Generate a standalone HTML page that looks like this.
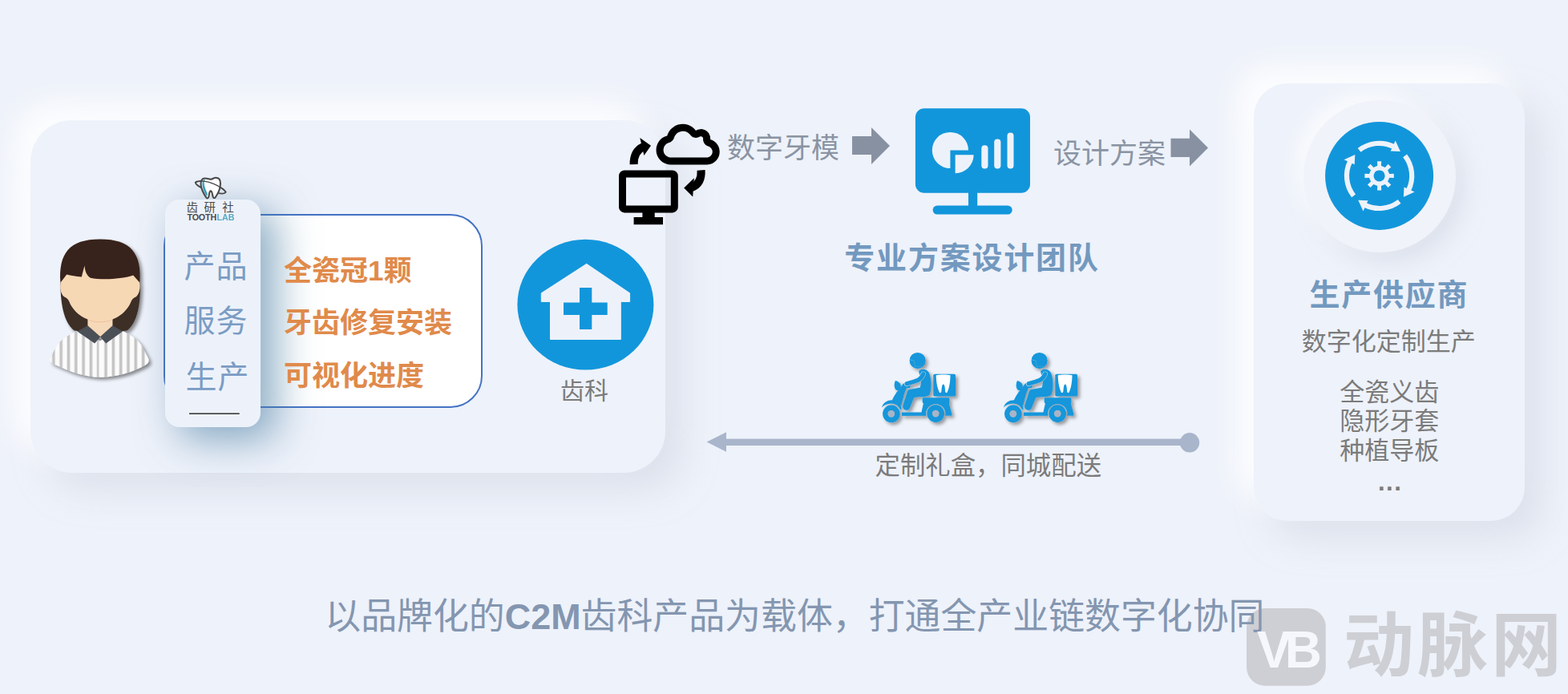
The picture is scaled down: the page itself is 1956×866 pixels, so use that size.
<!DOCTYPE html>
<html lang="zh-CN">
<head>
<meta charset="utf-8">
<title>C2M 齿科产品 全产业链数字化协同</title>
<style>
html,body{margin:0;padding:0}
body{width:1956px;height:866px;background:#eef2fa;position:relative;overflow:hidden;font-family:"Liberation Sans","Noto Sans CJK SC",sans-serif}
.abs{position:absolute}
.t{position:absolute;white-space:nowrap;line-height:1;overflow:visible;height:1.1em;font-family:"Liberation Sans","Noto Sans CJK SC",sans-serif}

.card{position:absolute;background:#eef2fa}
#lcard{left:38px;top:150px;width:792px;height:440px;border-radius:52px;box-shadow:-22px -22px 36px rgba(255,255,255,.85),22px 22px 40px rgba(208,213,226,.58)}
#rcard{left:1564px;top:104px;width:338px;height:546px;border-radius:42px;box-shadow:-22px -22px 36px rgba(255,255,255,.85),22px 22px 40px rgba(208,213,226,.58)}
#disc{left:1625.5px;top:124.5px;width:190px;height:190px;border-radius:50%;background:#f0f3fa;box-shadow:-10px -10px 24px rgba(255,255,255,.7),12px 12px 26px rgba(208,213,226,.6)}
#wbox{left:203.5px;top:266.5px;width:394px;height:238px;border-radius:40px;border:2px solid #4472c4;background:#fff}
#pill{left:206px;top:249px;width:119px;height:284px;border-radius:18px;background:#edf2fa;box-shadow:18px 14px 50px 2px rgba(72,124,162,.62)}

</style>
</head>
<body>

<div class="card" id="lcard"></div>
<div class="card" id="rcard"></div>
<div class="card" id="disc"></div>
<div class="card" id="wbox"></div>
<svg class="abs" style="left:0;top:0" width="1956" height="866" viewBox="0 0 1956 866"></svg>
<div class="card" id="pill"></div>

<svg class="abs" style="left:0;top:0" width="1956" height="866" viewBox="0 0 1956 866">
<rect x="236" y="515.5" width="62.7" height="1.3" fill="#111"/>
<polygon fill="#8791a2"  points="1063.0,170.0 1087.0,170.0 1087.0,159.0 1110.0,182.0 1087.0,205.0 1087.0,193.0 1063.0,193.0"/>
<polygon fill="#8791a2"  points="1460.5,172.8 1484.0,172.8 1484.0,161.5 1507.0,184.5 1484.0,207.5 1484.0,196.0 1460.5,196.0"/>
<rect x="900" y="547.6" width="584" height="8.4" fill="#a9b5cb"/>
<polygon fill="#a9b5cb"  points="881.6,551.5 906.0,539.3 906.0,563.7"/>
<circle cx="1484" cy="552.3" r="12.2" fill="#a9b5cb"/>
<ellipse cx="730.4" cy="380.2" rx="85" ry="81.4" fill="#1296db"/>
<polygon fill="#edf2fa" stroke="#edf2fa" stroke-width="1" stroke-linejoin="round" points="731.7,329.3 785.6,365.8 785.6,376.4 774.3,376.4 774.3,423.5 686.5,423.5 686.5,376.4 675.3,376.4 675.3,365.8"/>
<rect x="723" y="359" width="15.3" height="52" fill="#1296db"/>
<rect x="703" y="377.5" width="54.7" height="15.5" fill="#1296db"/>
<rect x="1141.9" y="135.3" width="143.1" height="105.4" rx="11" fill="#1296db"/>
<rect x="1208" y="238" width="11.2" height="22" fill="#1296db"/>
<rect x="1163.6" y="256.6" width="99.1" height="11" rx="5.5" fill="#1296db"/>
<path fill="#edf2fa" d="M1185.4 187.5 L1185.4 210.1 A22.6 22.6 0 1 1 1208.0 187.5 Z"/>
<path fill="#edf2fa" d="M1191.6 193.3 L1214.6 193.3 A23.0 23.0 0 0 1 1191.6 216.3 Z"/>
<rect x="1224.3" y="181.3" width="8.2" height="29.3" rx="4" fill="#edf2fa"/>
<rect x="1240.2" y="173.6" width="8.2" height="37.0" rx="4" fill="#edf2fa"/>
<rect x="1256.5" y="165.4" width="8.0" height="45.2" rx="4" fill="#edf2fa"/>
<circle cx="1720.6" cy="219.4" r="67.5" fill="#1296db"/>
<path fill="none" stroke="#edf2fa" stroke-width="6.2" d="M1695.6 187.4 A40.6 40.6 0 0 1 1738.4 182.9"/>
<polygon fill="#edf2fa"  points="1740.7,175.4 1746.9,189.1 1734.7,188.5"/>
<path fill="none" stroke="#edf2fa" stroke-width="6.2" d="M1752.6 194.4 A40.6 40.6 0 0 1 1757.1 237.2"/>
<polygon fill="#edf2fa"  points="1764.6,239.5 1750.9,245.7 1751.5,233.5"/>
<path fill="none" stroke="#edf2fa" stroke-width="6.2" d="M1745.6 251.4 A40.6 40.6 0 0 1 1702.8 255.9"/>
<polygon fill="#edf2fa"  points="1700.5,263.4 1694.3,249.7 1706.5,250.3"/>
<path fill="none" stroke="#edf2fa" stroke-width="6.2" d="M1688.6 244.4 A40.6 40.6 0 0 1 1684.1 201.6"/>
<polygon fill="#edf2fa"  points="1676.6,199.3 1690.3,193.1 1689.7,205.3"/>
<path fill="#edf2fa" fill-rule="evenodd" d="M1718.3 206.8 L1718.0 201.2 L1723.2 201.2 L1722.9 206.8 L1727.8 208.9 L1731.6 204.7 L1735.3 208.4 L1731.1 212.2 L1733.2 217.1 L1738.8 216.8 L1738.8 222.0 L1733.2 221.7 L1731.1 226.6 L1735.3 230.4 L1731.6 234.1 L1727.8 229.9 L1722.9 232.0 L1723.2 237.6 L1718.0 237.6 L1718.3 232.0 L1713.4 229.9 L1709.6 234.1 L1705.9 230.4 L1710.1 226.6 L1708.0 221.7 L1702.4 222.0 L1702.4 216.8 L1708.0 217.1 L1710.1 212.2 L1705.9 208.4 L1709.6 204.7 L1713.4 208.9Z M1720.6 212.4 a7 7 0 1 0 0.01 0Z"/>
<rect x="776.5" y="216.9" width="64.8" height="44" rx="2.5" fill="none" stroke="#000" stroke-width="9"/>
<rect x="801.4" y="264" width="15.3" height="8" fill="#000"/>
<rect x="790.6" y="271" width="36.4" height="9.2" fill="#000"/>
<path fill="#000" fill-rule="evenodd" d="M886.1 172.3 L885.9 170.6 L885.5 169.2 L884.8 167.6 L884.0 166.1 L882.9 164.8 L881.8 163.8 L880.4 162.8 L878.8 162.0 L876.3 161.3 L874.9 161.1 L873.5 161.2 L872.0 161.4 L870.6 161.7 L869.3 162.3 L868.1 162.9 L865.9 160.4 L863.6 158.5 L861.0 156.9 L858.2 155.8 L855.3 155.0 L851.8 154.7 L848.8 154.9 L845.9 155.6 L844.0 156.3 L842.2 157.1 L840.5 158.2 L838.5 159.7 L836.3 161.8 L834.5 164.2 L833.1 166.9 L832.2 169.4 L829.1 170.5 L826.3 172.1 L823.9 174.1 L821.9 176.5 L820.7 178.5 L819.8 180.5 L819.1 182.7 L818.7 184.4 L818.6 186.7 L818.6 188.5 L818.9 190.7 L819.3 192.4 L820.3 195.0 L821.4 196.9 L822.7 198.8 L824.6 200.7 L826.7 202.4 L828.7 203.5 L831.2 204.6 L833.8 205.2 L836.9 205.5 L881.6 205.5 L884.0 205.3 L886.3 204.8 L888.5 203.9 L890.9 202.5 L893.0 200.8 L894.5 199.0 L895.8 197.0 L896.9 194.4 L897.5 192.1 L897.7 189.4 L897.5 187.0 L897.0 184.7 L896.2 182.5 L895.0 180.4 L893.3 178.3 L891.2 176.4 L888.8 175.0 L886.1 173.9ZM877.1 172.8 L876.9 171.8 L876.3 171.0 L875.6 170.4 L874.7 170.2 L873.5 170.3 L871.3 171.3 L869.6 171.8 L867.8 171.9 L866.1 171.6 L865.2 171.4 L863.6 170.7 L862.2 169.6 L859.9 167.1 L858.4 165.8 L856.7 164.8 L854.9 164.1 L853.2 163.8 L851.5 163.7 L849.9 163.9 L848.0 164.4 L846.7 164.9 L845.2 165.8 L843.9 166.9 L843.0 167.9 L841.6 170.0 L840.6 172.7 L839.8 174.2 L838.2 176.1 L836.1 177.5 L833.3 178.5 L832.1 179.1 L830.6 180.2 L829.5 181.4 L828.9 182.3 L828.3 183.5 L827.7 185.7 L827.6 188.0 L828.1 190.3 L828.5 191.3 L829.3 192.5 L830.1 193.6 L831.2 194.5 L832.1 195.1 L833.3 195.8 L834.6 196.2 L836.0 196.4 L881.5 196.5 L882.8 196.4 L884.0 196.1 L885.3 195.5 L886.2 194.8 L887.2 193.7 L888.0 192.6 L888.5 191.3 L888.7 189.9 L888.7 188.5 L888.4 187.3 L887.5 185.4 L886.1 183.9 L884.8 183.0 L882.7 182.2 L881.2 181.4 L880.4 180.9 L879.2 179.7 L878.2 178.2 L877.5 176.6 L877.1 174.9Z"/>
<path fill="none" stroke="#000" stroke-width="10" d="M790.6 205.2 Q790.2 188.9 802.6 183.0"/>
<polygon fill="#000"  points="798.3,172.0 812.0,181.8 803.4,194.0"/>
<path fill="none" stroke="#000" stroke-width="10" d="M874.6 212.4 Q875.6 229.1 862.9 234.0"/>
<polygon fill="#000"  points="865.8,222.2 853.2,234.6 864.2,245.4"/>
<g transform="translate(40,280) scale(0.24260)"><defs><pattern id="stripes" x="93" y="0" width="38.4" height="10" patternUnits="userSpaceOnUse"><rect x="0" y="0" width="38.4" height="10" fill="#fbfbfb"/><rect x="10" y="0" width="15" height="10" fill="#c4c4c4"/></pattern><filter id="avsh" x="-20%" y="-20%" width="150%" height="150%"><feGaussianBlur in="SourceAlpha" stdDeviation="9"/><feOffset dx="12" dy="12"/><feComponentTransfer><feFuncA type="linear" slope="0.45"/></feComponentTransfer><feMerge><feMergeNode/><feMergeNode in="SourceGraphic"/></feMerge></filter></defs><g filter="url(#avsh)"><path fill="#3d2e26" d="M146 300 C146 400 160 500 215 545 L300 560 L400 560 L490 545 C545 500 558 400 556 300 Z"/><path fill="url(#stripes)" d="M236 548 C180 570 135 600 118 640 L92 690 C90 705 100 715 120 722 C200 760 280 785 350 786 C430 785 520 760 585 722 C600 712 603 700 598 690 L572 640 C555 600 515 570 462 548 L350 600 Z"/><rect x="343" y="600" width="14" height="185" fill="#fdfdfd" opacity=".8"/><path fill="#f6d9b8" d="M286 470 L414 470 L414 530 L350 585 L286 530 Z"/><path fill="#efc4a6" d="M286 478 L414 478 L414 490 C390 510 310 510 286 490 Z"/><path fill="#4b4f57" d="M286 520 L232 550 L322 612 L352 578 Z"/><path fill="#4b4f57" d="M414 520 L466 550 L380 612 L350 578 Z"/><path fill="#f7d8b5" d="M165 270 L200 200 L500 200 L540 270 C560 285 562 350 535 372 C520 380 515 385 510 395 C490 450 430 500 350 500 C270 500 210 450 190 395 C185 385 180 380 165 372 C138 350 140 285 165 270 Z"/><path fill="#37241c" d="M146 300 C136 150 190 76 350 76 C510 76 564 150 554 300 L520 262 C450 285 350 285 300 275 C280 262 272 240 270 212 C262 240 258 258 255 270 C225 268 200 264 178 258 Z"/></g></g>
<g transform="translate(200,210) scale(0.09234)"><g transform="rotate(18.5 678 258)"><ellipse cx="678" cy="258" rx="212" ry="52" fill="none" stroke="#4a4848" stroke-width="20"/></g><path d="M600 135 C560 135 545 175 548 220 C552 290 590 350 620 395 C640 420 655 395 658 360 C662 325 668 305 680 305 C692 305 700 325 705 360 C710 395 725 415 745 390 C780 340 812 270 812 205 C812 160 790 128 750 128 C720 128 700 150 680 150 C660 150 640 135 600 135 Z" fill="#fff" stroke="#4a4848" stroke-width="22" stroke-linejoin="round"/><path d="M600 150 C575 160 565 190 568 225 C572 285 600 340 628 380 C632 370 636 355 636 340 C610 290 590 230 592 190 C593 170 600 158 612 150 Z" fill="#3d9cba"/><path d="M470 190 C540 165 640 175 720 210 C790 240 850 280 888 322" fill="none" stroke="#4a4848" stroke-width="15" stroke-linecap="round"/></g>
<defs><mask id="scm" maskUnits="userSpaceOnUse" x="0" y="0" width="945" height="866"><path fill="#fff" d="M486 522 L734 522 Q744 522 744 532 L744 566 Q744 575 738 577 L768 688 L764 698 L275 700 L275 665 L468 665 L488 577 Q478 575 478 566 L478 532 Q478 522 486 522 Z"/><circle cx="608" cy="678" r="96" fill="#000"/><rect x="0" y="700" width="945" height="166" fill="#000"/><circle cx="608" cy="678" r="85" fill="#fff"/><circle cx="608" cy="678" r="33" fill="#000"/><path fill="#fff" d="M78 618 C95 560 150 540 200 548 C245 556 270 585 272 640 L255 640 C245 600 215 578 172 578 C130 578 100 595 78 618 Z"/><path fill="#fff" d="M176 560 C190 520 215 475 250 440 L292 380 L335 395 L300 480 L268 602 C250 572 215 556 176 560 Z"/><circle cx="172" cy="680" r="93" fill="none" stroke="#000" stroke-width="9"/><circle cx="172" cy="680" r="85" fill="#fff"/><circle cx="172" cy="680" r="33" fill="#000"/><path fill="#fff" d="M212 355 C255 365 275 395 262 430 C252 455 225 458 210 435 C198 412 200 380 212 355 Z"/><path fill="#fff" d="M300 372 L345 385 Q365 392 360 412 Q355 430 335 426 L300 415 Z"/><path fill="#fff" stroke="#000" stroke-width="6" d="M458 418 L352 438 C336 442 328 455 322 475 L283 598 C272 645 335 668 356 625 L398 522 L475 514 L540 500 Z"/><path fill="#fff" d="M442 262 C462 232 520 236 542 276 C566 330 572 430 548 490 C538 506 500 512 470 514 L440 470 L455 420 C470 380 465 330 450 300 Z"/><path fill="none" stroke="#000" stroke-width="52" stroke-linecap="round" stroke-linejoin="round" d="M486 290 Q462 348 400 362 L324 384"/><path fill="none" stroke="#fff" stroke-width="42" stroke-linecap="round" stroke-linejoin="round" d="M486 290 Q462 348 400 362 L324 384"/><circle cx="430" cy="157" r="79" fill="#fff"/><path fill="none" stroke="#555" stroke-width="4" d="M356 148 L398 160 L404 214 L470 214"/><rect x="585" y="290" width="218" height="218" rx="12" fill="#fff"/></mask><filter id="scsh" x="-10%" y="-10%" width="130%" height="130%"><feGaussianBlur in="SourceAlpha" stdDeviation="15"/><feOffset dx="26" dy="26"/><feComponentTransfer><feFuncA type="linear" slope="0.38"/></feComponentTransfer><feMerge><feMergeNode/><feMergeNode in="SourceGraphic"/></feMerge></filter><g id="scooter" filter="url(#scsh)"><rect x="0" y="0" width="945" height="866" fill="#1296db" mask="url(#scm)"/><path fill="#fff" d="M612 302 C640 292 724 292 752 302 C752 360 742 430 722 468 C716 476 704 474 702 462 C700 430 698 392 683 390 C668 392 668 430 664 462 C662 474 650 476 644 468 C624 430 612 360 612 302 Z"/><circle cx="172" cy="680" r="34" fill="#a9b4c6"/><circle cx="608" cy="678" r="34" fill="#a9b4c6"/></g></defs>
<use href="#scooter" transform="translate(1090,430) scale(0.12698)"/>
<use href="#scooter" transform="translate(1242,430) scale(0.12698)"/>
<g opacity=".3" fill="#86807e"><g transform="translate(1545,750) scale(0.13398)"><rect x="75" y="68" width="737" height="722" rx="172" /></g></g>
</svg>

<div class="t" style="left:229.5px;top:313.2px;width:81.0px;font-size:39.0px;font-weight:400;letter-spacing:1.0px;color:#7b9cc4">产品</div>
<div class="t" style="left:229.5px;top:381.2px;width:81.0px;font-size:39.0px;font-weight:400;letter-spacing:1.0px;color:#7b9cc4">服务</div>
<div class="t" style="left:231.5px;top:451.2px;width:81.0px;font-size:39.0px;font-weight:400;letter-spacing:1.0px;color:#7b9cc4">生产</div>
<div class="t" style="left:354.0px;top:320.2px;width:161.9px;font-size:35.0px;font-weight:700;letter-spacing:0.0px;color:#e08a4b">全瓷冠1颗</div>
<div class="t" style="left:354.0px;top:385.2px;width:212.0px;font-size:35.0px;font-weight:700;letter-spacing:0.0px;color:#e08a4b">牙齿修复安装</div>
<div class="t" style="left:354.0px;top:451.2px;width:177.0px;font-size:35.0px;font-weight:700;letter-spacing:0.0px;color:#e08a4b">可视化进度</div>
<div class="t" style="left:699.0px;top:472.6px;width:62.0px;font-size:30.0px;font-weight:400;letter-spacing:0.0px;color:#7b7b7b">齿科</div>
<div class="t" style="left:907.0px;top:167.2px;width:142.0px;font-size:35.0px;font-weight:400;letter-spacing:0.0px;color:#8a94a3">数字牙模</div>
<div class="t" style="left:1314.0px;top:173.7px;width:142.0px;font-size:35.0px;font-weight:400;letter-spacing:0.0px;color:#8a94a3">设计方案</div>
<div class="t" style="left:1053.3px;top:302.9px;width:318.6px;font-size:38.0px;font-weight:700;letter-spacing:1.8px;color:#7399bf">专业方案设计团队</div>
<div class="t" style="left:1091.5px;top:565.7px;width:284.6px;font-size:31.4px;font-weight:400;letter-spacing:0.0px;color:#7b7b7b">定制礼盒，同城配送</div>
<div class="t" style="left:1633.4px;top:348.6px;width:199.2px;font-size:38.0px;font-weight:700;letter-spacing:1.8px;color:#7399bf">生产供应商</div>
<div class="t" style="left:1623.8px;top:410.7px;width:219.0px;font-size:31.0px;font-weight:400;letter-spacing:0.0px;color:#7b7b7b">数字化定制生产</div>
<div class="t" style="left:1671.2px;top:473.7px;width:126.0px;font-size:31.0px;font-weight:400;letter-spacing:0.0px;color:#7b7b7b">全瓷义齿</div>
<div class="t" style="left:1671.2px;top:509.7px;width:126.0px;font-size:31.0px;font-weight:400;letter-spacing:0.0px;color:#7b7b7b">隐形牙套</div>
<div class="t" style="left:1671.2px;top:547.2px;width:126.0px;font-size:31.0px;font-weight:400;letter-spacing:0.0px;color:#7b7b7b">种植导板</div>
<div class="t" style="left:1719px;top:586px;font-size:31px;font-weight:700;letter-spacing:1.5px;color:#7b7b7b">...</div>
<div class="t" style="left:405.3px;top:747.5px;width:1171.5px;font-size:44.9px;font-weight:400;letter-spacing:0.0px;color:#8496b0">以品牌化的<b>C2M</b>齿科产品为载体，打通全产业链数字化协同</div>
<div class="t" style="left:232.6px;top:251.8px;width:16.5px;font-size:14.5px;font-weight:400;letter-spacing:0.0px;color:#4a4848">齿</div>
<div class="t" style="left:254.6px;top:251.8px;width:16.5px;font-size:14.5px;font-weight:400;letter-spacing:0.0px;color:#4a4848">研</div>
<div class="t" style="left:277.2px;top:251.8px;width:16.5px;font-size:14.5px;font-weight:400;letter-spacing:0.0px;color:#4a4848">社</div>
<div class="t" style="left:233.4px;top:266.1px;width:38.8px;font-size:10.7px;font-weight:700;letter-spacing:-0.1px;color:#4a4848">TOOTH</div>
<div class="t" style="left:270.6px;top:266.1px;width:23.7px;font-size:10.7px;font-weight:700;letter-spacing:-0.1px;color:#3d9cba;opacity:.85">LAB</div>
<div class="t" style="left:1568px;top:779px;font-size:64px;font-weight:700;letter-spacing:-8px;color:#f5f7fc">VB</div>
<div class="t" style="left:1676px;top:762px;font-size:88px;font-weight:700;letter-spacing:4px;color:#86807e;opacity:.3">动脉网</div>
</body>
</html>
